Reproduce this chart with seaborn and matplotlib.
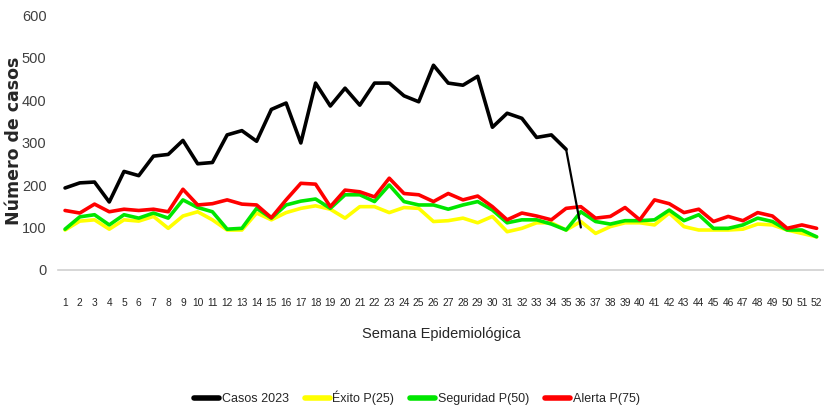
import matplotlib
matplotlib.use("Agg")
import matplotlib.pyplot as plt
import seaborn as sns
import pandas as pd
from matplotlib.lines import Line2D

weeks = list(range(1, 53))

casos_2023 = [193, 205, 207, 160, 232, 222, 268, 272, 305, 250, 253, 318, 328, 303, 378,
              393, 299, 440, 386, 428, 388, 440, 440, 410, 396, 482, 440, 435, 456, 336,
              369, 357, 312, 318, 284, 100]

exito_p25 = [94, 115, 118, 96, 118, 115, 126, 98, 127, 137, 118, 94, 94, 134, 118,
             135, 145, 151, 143, 122, 149, 149, 135, 147, 145, 114, 116, 122, 111, 126,
             90, 98, 111, 111, 94, 114, 86, 102, 111, 111, 106, 134, 102, 94, 94,
             94, 96, 108, 106, 94, 86, 78]

seguridad_p50 = [96, 125, 130, 106, 130, 122, 134, 122, 165, 147, 137, 96, 98, 145, 122,
                 153, 162, 167, 145, 177, 177, 161, 200, 161, 153, 153, 143, 153, 161, 141,
                 111, 118, 118, 108, 94, 137, 114, 108, 116, 116, 118, 141, 116, 130, 98,
                 98, 106, 122, 114, 94, 94, 78]

alerta_p75 = [140, 134, 155, 137, 143, 140, 143, 137, 190, 153, 156, 165, 155, 153, 123,
              165, 204, 202, 149, 188, 184, 172, 216, 180, 177, 161, 180, 165, 174, 149,
              118, 134, 127, 118, 145, 149, 122, 126, 147, 118, 165, 156, 135, 143, 114,
              126, 116, 135, 127, 98, 106, 98]

series_names = ["Casos 2023", "Éxito P(25)", "Seguridad P(50)", "Alerta P(75)"]
series_colors = ["#000000", "#FFFF00", "#00E600", "#FF0000"]
palette = dict(zip(series_names, series_colors))

rows = []
for name, vals in zip(series_names, [casos_2023, exito_p25, seguridad_p50, alerta_p75]):
    for w, v in zip(weeks, vals):
        rows.append({"Semana": w, "Casos": v, "Serie": name})
df = pd.DataFrame(rows)

sns.set_theme(style="white")
plt.rcParams['font.family'] = ['Liberation Sans', 'DejaVu Sans']

fig = plt.figure(figsize=(8.24, 4.09), dpi=100)
ax = fig.add_axes([0.070, 0.340, 0.930, 0.623])

last_week = len(casos_2023)
main = df[~((df["Serie"] == "Casos 2023") & (df["Semana"] == last_week))]
tail = df[(df["Serie"] == "Casos 2023") & (df["Semana"] >= last_week - 1)]

sns.lineplot(data=main, x="Semana", y="Casos", hue="Serie", hue_order=series_names,
             palette=palette, linewidth=2.6, ax=ax, legend=False, sort=False)
for line, z in zip(ax.get_lines(), [5, 2, 3, 4]):
    line.set_zorder(z)
sns.lineplot(data=tail, x="Semana", y="Casos", color="#000000", linewidth=1.6,
             ax=ax, legend=False, sort=False, zorder=5)

ax.set_xlim(0.5, 52.5)
ax.set_ylim(0, 600)
ax.set_yticks([0, 100, 200, 300, 400, 500, 600])
ax.set_xticks(weeks)
ax.set_xticklabels([str(w) for w in weeks], fontsize=7.4, color="#262626")
ax.tick_params(axis="y", labelsize=10.5, labelcolor="#404040", pad=8, length=0)
ax.tick_params(axis="x", length=0, pad=20)

for s in ["top", "right", "left"]:
    ax.spines[s].set_visible(False)
ax.spines["bottom"].set_color("#D0D0D0")
ax.spines["bottom"].set_linewidth(1.2)

ax.set_xlabel("Semana Epidemiológica", fontsize=10.5, color="#262626", labelpad=14)
ax.set_ylabel("Número de casos", fontsize=12.5, fontweight="bold", color="#262626",
              family="DejaVu Sans")
ax.yaxis.set_label_coords(-0.045, 0.506)

handles = [Line2D([0], [0], color=c, linewidth=4) for c in series_colors]
fig.legend(handles, series_names, loc="center", bbox_to_anchor=(0.506, 0.027), ncol=4,
           frameon=False, fontsize=9, handlelength=2.0, handletextpad=0.2,
           columnspacing=1.3, labelcolor="#262626")

fig.savefig("out.png", dpi=100)
